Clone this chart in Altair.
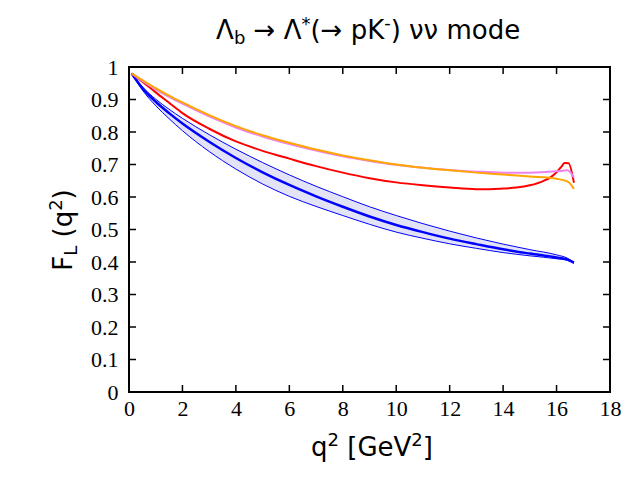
import altair as alt
import pandas as pd

# ---------------- data ----------------
q_blue = [0.1, 0.5, 1, 1.5, 2, 3, 4, 5, 6, 7, 8, 9, 10, 11, 12, 13, 14, 15, 16, 16.4, 16.65]
blue_center = [0.980, 0.935, 0.893, 0.858, 0.826, 0.770, 0.720, 0.676, 0.637, 0.602, 0.570,
               0.540, 0.514, 0.492, 0.472, 0.455, 0.439, 0.426, 0.414, 0.408, 0.398]
blue_upper = [0.980, 0.939, 0.901, 0.870, 0.842, 0.792, 0.747, 0.706, 0.668, 0.633, 0.601,
              0.570, 0.543, 0.518, 0.495, 0.474, 0.455, 0.438, 0.422, 0.412, 0.399]
blue_lower = [0.980, 0.929, 0.881, 0.841, 0.804, 0.740, 0.686, 0.640, 0.602, 0.571, 0.543,
              0.516, 0.492, 0.473, 0.456, 0.442, 0.429, 0.419, 0.410, 0.405, 0.396]

q_orange = [0.1, 0.5, 1, 1.5, 2, 3, 4, 5, 6, 7, 8, 9, 10, 11, 12, 13, 14, 15, 16, 16.4, 16.5, 16.65]
orange = [0.980, 0.960, 0.935, 0.912, 0.891, 0.852, 0.818, 0.790, 0.767, 0.746, 0.728,
          0.713, 0.700, 0.690, 0.682, 0.675, 0.669, 0.663, 0.656, 0.648, 0.642, 0.625]
violet = [0.980, 0.957, 0.931, 0.908, 0.887, 0.848, 0.814, 0.786, 0.763, 0.743, 0.725,
          0.711, 0.699, 0.690, 0.683, 0.678, 0.675, 0.675, 0.679, 0.682, 0.678, 0.660]

q_red = [0.1, 0.5, 1, 1.5, 2, 3, 4, 5, 6, 7, 8, 9, 10, 11, 12, 13, 13.5, 14, 14.5, 15,
         15.5, 15.8, 16, 16.2, 16.3, 16.45, 16.65]
red = [0.980, 0.955, 0.922, 0.890, 0.858, 0.810, 0.771, 0.742, 0.718, 0.695, 0.675,
       0.658, 0.645, 0.636, 0.629, 0.624, 0.624, 0.626, 0.629, 0.636, 0.649, 0.662,
       0.676, 0.695, 0.705, 0.704, 0.644]

x_ticks = [0, 2, 4, 6, 8, 10, 12, 14, 16, 18]
y_ticks = [0, 0.1, 0.2, 0.3, 0.4, 0.5, 0.6, 0.7, 0.8, 0.9, 1.0]
x_inner_ticks = [2, 4, 6, 8, 10, 12, 14, 16]
y_inner_ticks = [0.1, 0.2, 0.3, 0.4, 0.5, 0.6, 0.7, 0.8, 0.9]

W_PLOT, H_PLOT = 481, 325

xs = alt.Scale(domain=[0, 18], nice=False, zero=False)
ys = alt.Scale(domain=[0, 1], nice=False, zero=False)

AX = dict(ticks=False, domain=False, grid=False, labelFont="Liberation Serif",
          labelFontSize=22, labelColor="black", labelFlush=False, labelOverlap=False,
          title=None)
xaxis = alt.Axis(values=x_ticks, format="d", labelPadding=6, **AX)
yaxis = alt.Axis(values=y_ticks, format=".1~f", labelPadding=11, **AX)

band_df = pd.DataFrame({"q": q_blue, "lo": blue_lower, "hi": blue_upper, "c": blue_center})
org_df = pd.DataFrame({"q": q_orange, "o": orange, "v": violet})
red_df = pd.DataFrame({"q": q_red, "r": red})

X = lambda f: alt.X(f, scale=xs, axis=xaxis)
Y = lambda f: alt.Y(f, scale=ys, axis=yaxis)

band = alt.Chart(band_df).mark_area(color="#e3e3f8", interpolate="monotone").encode(
    x=X("q:Q"), y=Y("lo:Q"), y2="hi:Q")


def line(df, field, color, width):
    return alt.Chart(df).mark_line(color=color, strokeWidth=width, interpolate="monotone").encode(
        x=X("q:Q"), y=Y(field + ":Q"))


edge_hi = line(band_df, "hi", "#0000ff", 1)
edge_lo = line(band_df, "lo", "#0000ff", 1)
center = line(band_df, "c", "#0000ff", 2.5)
red_line = line(red_df, "r", "#ff0000", 2)
vio_line = line(org_df, "v", "#ee82ee", 2)
org_line = line(org_df, "o", "#ffa500", 2)

# inward tick marks on all four sides
xt_df = pd.DataFrame({"q": x_inner_ticks})
yt_df = pd.DataFrame({"f": y_inner_ticks})
TL = 7
tick_b = alt.Chart(xt_df).mark_rule(color="black", strokeWidth=1.5).encode(
    x=X("q:Q"), y=alt.value(H_PLOT), y2=alt.value(H_PLOT - TL))
tick_t = alt.Chart(xt_df).mark_rule(color="black", strokeWidth=1.5).encode(
    x=X("q:Q"), y=alt.value(0), y2=alt.value(TL))
tick_l = alt.Chart(yt_df).mark_rule(color="black", strokeWidth=1.5).encode(
    y=Y("f:Q"), x=alt.value(0), x2=alt.value(TL))
tick_r = alt.Chart(yt_df).mark_rule(color="black", strokeWidth=1.5).encode(
    y=Y("f:Q"), x=alt.value(W_PLOT), x2=alt.value(W_PLOT - TL))

one = pd.DataFrame({"k": [0]})
frame = [
    alt.Chart(one).mark_rule(color="black", strokeWidth=2).encode(
        x=alt.value(-1), x2=alt.value(W_PLOT + 1), y=alt.value(0)),
    alt.Chart(one).mark_rule(color="black", strokeWidth=2).encode(
        x=alt.value(-1), x2=alt.value(W_PLOT + 1), y=alt.value(H_PLOT)),
    alt.Chart(one).mark_rule(color="black", strokeWidth=2).encode(
        x=alt.value(0), y=alt.value(0), y2=alt.value(H_PLOT)),
    alt.Chart(one).mark_rule(color="black", strokeWidth=2).encode(
        x=alt.value(W_PLOT), y=alt.value(0), y2=alt.value(H_PLOT)),
]

# ---------------- rich-text titles built from pieces ----------------
EM = {"Λ": 0.684, "b": 0.635, " ": 0.318, "→": 0.838, "*": 0.5, "(": 0.390, ")": 0.390,
      "p": 0.635, "K": 0.656, "-": 0.361, "ν": 0.592, "m": 0.974, "o": 0.612, "d": 0.635,
      "e": 0.615, "F": 0.575, "L": 0.557, "q": 0.635, "2": 0.636, "[": 0.390, "]": 0.390,
      "G": 0.775, "V": 0.684}
FONT = "DejaVu Sans"


def pieces(segs, center, base, horizontal=True):
    widths = [sum(EM[ch] for ch in t) * fs for t, fs, _ in segs]
    pos = center - sum(widths) / 2 if horizontal else center + sum(widths) / 2
    out = []
    for (t, fs, shift), w in zip(segs, widths):
        lead = (len(t) - len(t.lstrip(" "))) * EM[" "] * fs
        txt = t.strip(" ")
        if horizontal:
            out.append(alt.Chart(one).mark_text(text=txt, font=FONT, fontSize=fs, align="left",
                                                baseline="alphabetic", color="black").encode(
                x=alt.value(pos + lead), y=alt.value(base + shift)))
            pos += w
        else:
            out.append(alt.Chart(one).mark_text(text=txt, font=FONT, fontSize=fs, align="left",
                                                baseline="alphabetic", angle=270, color="black").encode(
                x=alt.value(base + shift), y=alt.value(pos - lead)))
            pos -= w
    return out


title_segs = [("Λ", 26, 0), ("b", 18, 5), (" → Λ", 26, 0), ("*", 18, -9),
              ("(→ pK", 26, 0), ("-", 18, -10), (") νν mode", 26, 0)]
ytitle_segs = [("F", 26, 0), ("L", 18, 5), (" (q", 26, 0), ("2", 18, -10), (")", 26, 0)]
xtitle_segs = [("q", 26, 0), ("2", 18, -10), (" [GeV", 26, 0), ("2", 18, -10), ("]", 26, 0)]

texts = (pieces(title_segs, 240, -28) +
         pieces(ytitle_segs, 163, -57, horizontal=False) +
         pieces(xtitle_segs, 243, 389))

chart = alt.layer(
    band, edge_hi, edge_lo, center, red_line, vio_line, org_line,
    tick_b, tick_t, tick_l, tick_r, *frame, *texts
).properties(
    width=W_PLOT, height=H_PLOT,
    padding={"left": 121, "top": 59, "right": 20, "bottom": 80},
    autosize=alt.AutoSizeParams(type="none"),
).configure_axis(
    labelOverlap=False
).configure_view(
    strokeWidth=0
).configure(background="white")

chart.save("out.html", embed_options={"renderer": "svg", "actions": False})
